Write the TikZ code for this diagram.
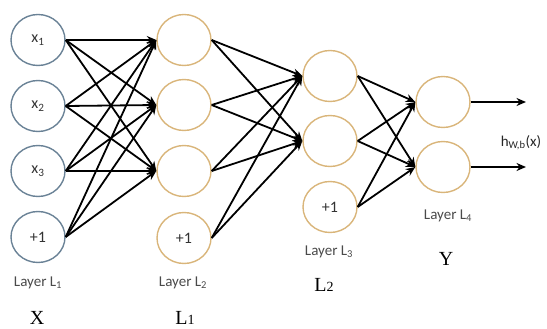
\documentclass[tikz,border=0pt]{standalone}
\usepackage{fontspec}
\setmainfont{Carlito}
\newfontfamily\serifface{Liberation Serif}
\usetikzlibrary{arrows.meta,shapes.geometric}
\definecolor{inblue}{HTML}{6A8296}
\definecolor{hidorange}{HTML}{D9B57A}
\definecolor{labelgray}{HTML}{4A4A4A}
\begin{document}
\begin{tikzpicture}[x=1pt,y=-1pt,
  neuron/.style={ellipse,draw,line width=1.4pt,minimum width=54pt,minimum height=51pt,
    inner sep=0pt,font=\fontsize{16}{18}\selectfont,text=black!80},
  inneuron/.style={neuron,draw=inblue},
  hidneuron/.style={neuron,draw=hidorange},
  link/.style={line width=1.8pt,-{Stealth[length=9.5pt,width=8pt]}},
  laylabel/.style={font=\fontsize{15}{17}\selectfont,text=labelgray},
  tag/.style={font=\serifface\fontsize{20}{22}\selectfont,inner sep=0pt}]
\useasboundingbox (0,0) rectangle (547,329);

% input layer
\node[inneuron] (a1) at (38,40)  {x\textsubscript{1}};
\node[inneuron] (a2) at (38,106) {x\textsubscript{2}};
\node[inneuron] (a3) at (38,171) {x\textsubscript{3}};
\node[inneuron] (a4) at (38,237) {+1};

% first hidden layer
\node[hidneuron] (b1) at (184,40)  {};
\node[hidneuron] (b2) at (184,105) {};
\node[hidneuron] (b3) at (184,171) {};
\node[hidneuron] (b4) at (184,238) {+1};

% second hidden layer
\node[hidneuron] (c1) at (330,76)  {};
\node[hidneuron] (c2) at (330,141) {};
\node[hidneuron] (c3) at (330,207) {+1};

% output layer
\node[hidneuron] (d1) at (443,102) {};
\node[hidneuron] (d2) at (443,167) {};
\coordinate (o1) at (526,102);
\coordinate (o2) at (526,167);

% connections
\foreach \s in {a1,a2,a3,a4}
  \foreach \t in {b1,b2,b3}
    \draw[link] (\s.east) -- (\t.west);
\foreach \s in {b1,b2,b3,b4}
  \foreach \t in {c1,c2}
    \draw[link] (\s.east) -- (\t.west);
\foreach \s in {c1,c2,c3}
  \foreach \t in {d1,d2}
    \draw[link] (\s.east) -- (\t.west);
\draw[link] (d1.east) -- (o1);
\draw[link] (d2.east) -- (o2);

% layer captions
\node[laylabel] (l1) at (38,283)  {Layer L\textsubscript{1}};
\node[laylabel] (l2) at (183,283) {Layer L\textsubscript{2}};
\node[laylabel] (l3) at (329,252) {Layer L\textsubscript{3}};
\node[laylabel] (l4) at (448,216) {Layer L\textsubscript{4}};
\node[laylabel,text=black!85] (hx) at (521,143) {h\textsubscript{W,b}(x)};

% variable names
\node[tag] (tx)  at (37,318)  {X};
\node[tag] (tl1) at (185,318) {L{\fontsize{14}{16}\selectfont 1}};
\node[tag] (tl2) at (324,285) {L{\fontsize{14}{16}\selectfont 2}};
\node[tag] (ty)  at (446,259) {Y};
\end{tikzpicture}
\end{document}
